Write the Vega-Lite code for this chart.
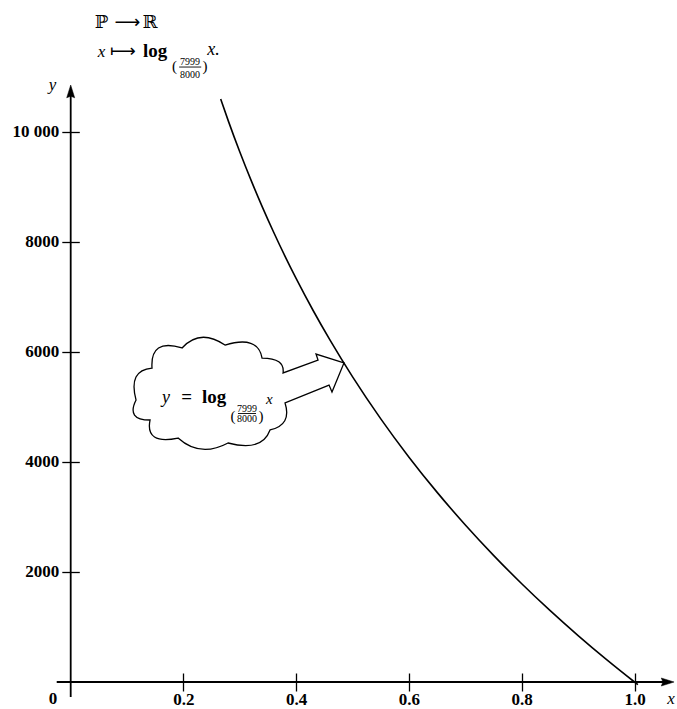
{
  "$schema": "https://vega.github.io/schema/vega-lite/v6.json",
  "width": 677,
  "height": 709,
  "autosize": {"type": "none"},
  "padding": 0,
  "background": "white",
  "config": {"view": {"stroke": null}, "font": "Liberation Serif"},
  "layer": [
    {
      "data": {"values": [
        {"x": -0.0248, "x2": 1.056, "y": 0, "y2": 0},
        {"x": 0, "x2": 0, "y": -272, "y2": 10703}
      ]},
      "mark": {"type": "rule", "stroke": "black", "strokeWidth": 1.8},
      "encoding": {
        "x": {"field": "x", "type": "quantitative",
          "scale": {"domain": [-0.1254, 1.07538], "nice": false, "zero": false},
          "axis": {"values": [0.2, 0.4, 0.6, 0.8, 1.0], "format": ".1f", "domain": false, "grid": false,
            "orient": "bottom", "offset": -36, "tickSize": 18, "tickColor": "black", "tickWidth": 1.3,
            "labelFont": "Liberation Serif", "labelFontSize": 17, "labelFontWeight": "bold", "labelColor": "black",
            "labelBaseline": "alphabetic", "labelPadding": 13.3, "labelOverlap": false, "labelFlush": false, "labelBound": false, "title": null}},
        "x2": {"field": "x2"},
        "y": {"field": "y", "type": "quantitative",
          "scale": {"domain": [-490.64, 12393.2], "nice": false, "zero": false},
          "axis": {"values": [2000, 4000, 6000, 8000, 10000], "format": "d",
            "labelExpr": "datum.value == 10000 ? '10 000' : datum.label",
            "domain": false, "grid": false, "orient": "left", "offset": -79.3, "tickSize": 17.5,
            "tickColor": "black", "tickWidth": 1.3, "labelFont": "Liberation Serif", "labelFontSize": 17, "labelFontWeight": "bold",
            "labelColor": "black", "labelBaseline": "middle", "labelPadding": 3, "labelOverlap": false, "labelFlush": false, "labelBound": false, "title": null}},
        "y2": {"field": "y2"}
      }
    },
    {
      "data": {"values": [{"x": 0, "y": 10703}]},
      "mark": {"type": "point", "shape": "M0,-1L0.5,0.6L0,0.4L-0.5,0.6Z", "filled": true, "fill": "black", "stroke": "black", "strokeWidth": 0.5, "size": 256, "opacity": 1},
      "encoding": {"x": {"field": "x", "type": "quantitative"}, "y": {"field": "y", "type": "quantitative"}}
    },
    {
      "data": {"values": [{"x": 1.056, "y": 0}]},
      "mark": {"type": "point", "shape": "M0,-1L0.5,0.6L0,0.4L-0.5,0.6Z", "angle": 90, "filled": true, "fill": "black", "stroke": "black", "strokeWidth": 0.5, "size": 256, "opacity": 1},
      "encoding": {"x": {"field": "x", "type": "quantitative"}, "y": {"field": "y", "type": "quantitative"}}
    },
    {
      "data": {"values": [{"x": 0.3003, "y": 5215}]},
      "mark": {"type": "point", "shape": "M-0.990,0.048Q-1.067,-0.238,-0.838,-0.257Q-0.857,-0.543,-0.552,-0.448Q-0.381,-0.638,-0.143,-0.476Q0.171,-0.571,0.210,-0.352Q0.429,-0.352,0.410,-0.210L0.743,-0.333L0.724,-0.390L0.990,-0.305L0.876,-0.029L0.848,-0.095L0.429,0.076Q0.495,0.286,0.286,0.333Q0.210,0.543,-0.114,0.457Q-0.381,0.600,-0.590,0.410Q-0.905,0.476,-0.857,0.238Q-1.086,0.238,-0.990,0.048Z",
        "filled": true, "fill": "white", "stroke": "black", "strokeWidth": 1.3, "size": 44100, "opacity": 1, "fillOpacity": 1, "strokeOpacity": 1},
      "encoding": {"x": {"field": "x", "type": "quantitative"}, "y": {"field": "y", "type": "quantitative"}}
    },
    {
      "data": {"values": [
        {"x": 0.266, "y": 10594}, {"x": 0.28, "y": 10183}, {"x": 0.30, "y": 9631}, {"x": 0.32, "y": 9115},
        {"x": 0.34, "y": 8630}, {"x": 0.36, "y": 8173}, {"x": 0.38, "y": 7740}, {"x": 0.40, "y": 7330},
        {"x": 0.43, "y": 6751}, {"x": 0.46, "y": 6212}, {"x": 0.50, "y": 5545}, {"x": 0.55, "y": 4782},
        {"x": 0.60, "y": 4086}, {"x": 0.65, "y": 3446}, {"x": 0.70, "y": 2853}, {"x": 0.75, "y": 2301},
        {"x": 0.80, "y": 1785}, {"x": 0.85, "y": 1300}, {"x": 0.90, "y": 843}, {"x": 0.95, "y": 410},
        {"x": 1.00, "y": 0}, {"x": 1.006, "y": -48}
      ]},
      "mark": {"type": "line", "stroke": "black", "strokeWidth": 1.6, "interpolate": "monotone"},
      "encoding": {"x": {"field": "x", "type": "quantitative"}, "y": {"field": "y", "type": "quantitative"}}
    },
    {
      "data": {"values": [
        {"x": 0.1924, "x2": 0.2315, "y": 11175, "y2": 11175},
        {"x": 0.2967, "x2": 0.3287, "y": 4879, "y2": 4879}
      ]},
      "mark": {"type": "rule", "stroke": "black", "strokeWidth": 0.9},
      "encoding": {"x": {"field": "x", "type": "quantitative"}, "x2": {"field": "x2"}, "y": {"field": "y", "type": "quantitative"}, "y2": {"field": "y2"}}
    },
    {
      "data": {"values": [{"x": -0.0314, "y": -405, "t": "0"}]},
      "mark": {"type": "text", "font": "Liberation Serif", "fontSize": 17, "fontWeight": "bold", "align": "center", "baseline": "alphabetic", "color": "black"},
      "encoding": {"x": {"field": "x", "type": "quantitative"}, "y": {"field": "y", "type": "quantitative"}, "text": {"field": "t"}}
    },
    {
      "data": {"values": [
        {"x": 1.0647, "y": -405, "t": "x"},
        {"x": -0.0323, "y": 10758, "t": "y"},
        {"x": 0.0546, "y": 11363, "t": "x"}
      ]},
      "mark": {"type": "text", "font": "Liberation Serif", "fontSize": 17, "fontStyle": "italic", "align": "center", "baseline": "alphabetic", "color": "black"},
      "encoding": {"x": {"field": "x", "type": "quantitative"}, "y": {"field": "y", "type": "quantitative"}, "text": {"field": "t"}}
    },
    {
      "data": {"values": [
        {"x": 0.0546, "y": 11884, "t": "ℙ"},
        {"x": 0.1407, "y": 11884, "t": "ℝ"}
      ]},
      "mark": {"type": "text", "font": "DejaVu Serif", "fontSize": 18, "align": "center", "baseline": "alphabetic", "color": "black"},
      "encoding": {"x": {"field": "x", "type": "quantitative"}, "y": {"field": "y", "type": "quantitative"}, "text": {"field": "t"}}
    },
    {
      "data": {"values": [
        {"x": 0.1007, "y": 11884, "t": "⟶"},
        {"x": 0.0928, "y": 11363, "t": "⟼"}
      ]},
      "mark": {"type": "text", "font": "DejaVu Sans", "fontSize": 18, "align": "center", "baseline": "alphabetic", "color": "black"},
      "encoding": {"x": {"field": "x", "type": "quantitative"}, "y": {"field": "y", "type": "quantitative"}, "text": {"field": "t"}}
    },
    {
      "data": {"values": [{"x": 0.1282, "y": 11363, "t": "log"}]},
      "mark": {"type": "text", "font": "Liberation Serif", "fontSize": 19, "fontWeight": "bold", "align": "left", "baseline": "alphabetic", "color": "black"},
      "encoding": {"x": {"field": "x", "type": "quantitative"}, "y": {"field": "y", "type": "quantitative"}, "text": {"field": "t"}}
    },
    {
      "data": {"values": [
        {"x": 0.2421, "y": 11394, "t": "x."},
        {"x": 0.1619, "y": 5070, "t": "y"}
      ]},
      "mark": {"type": "text", "font": "Liberation Serif", "fontSize": 18, "fontStyle": "italic", "align": "left", "baseline": "alphabetic", "color": "black"},
      "encoding": {"x": {"field": "x", "type": "quantitative"}, "y": {"field": "y", "type": "quantitative"}, "text": {"field": "t"}}
    },
    {
      "data": {"values": [{"x": 0.3464, "y": 5052, "t": "x"}]},
      "mark": {"type": "text", "font": "Liberation Serif", "fontSize": 15, "fontStyle": "italic", "align": "left", "baseline": "alphabetic", "color": "black"},
      "encoding": {"x": {"field": "x", "type": "quantitative"}, "y": {"field": "y", "type": "quantitative"}, "text": {"field": "t"}}
    },
    {
      "data": {"values": [
        {"x": 0.1960, "y": 5070, "t": "="}
      ]},
      "mark": {"type": "text", "font": "Liberation Serif", "fontSize": 19, "fontWeight": "bold", "align": "left", "baseline": "alphabetic", "color": "black"},
      "encoding": {"x": {"field": "x", "type": "quantitative"}, "y": {"field": "y", "type": "quantitative"}, "text": {"field": "t"}}
    },
    {
      "data": {"values": [
        {"x": 0.2330, "y": 5070, "t": "log"}
      ]},
      "mark": {"type": "text", "font": "Liberation Serif", "fontSize": 19, "fontWeight": "bold", "align": "left", "baseline": "alphabetic", "color": "black"},
      "encoding": {"x": {"field": "x", "type": "quantitative"}, "y": {"field": "y", "type": "quantitative"}, "text": {"field": "t"}}
    },
    {
      "data": {"values": [
        {"x": 0.1841, "y": 11112, "t": "("},
        {"x": 0.2382, "y": 11112, "t": ")"},
        {"x": 0.2879, "y": 4743, "t": "("},
        {"x": 0.3376, "y": 4743, "t": ")"}
      ]},
      "mark": {"type": "text", "font": "Liberation Serif", "fontSize": 15, "align": "center", "baseline": "alphabetic", "color": "black"},
      "encoding": {"x": {"field": "x", "type": "quantitative"}, "y": {"field": "y", "type": "quantitative"}, "text": {"field": "t"}}
    },
    {
      "data": {"values": [
        {"x": 0.2116, "y": 11212, "t": "7999"},
        {"x": 0.2116, "y": 10976, "t": "8000"},
        {"x": 0.3127, "y": 4906, "t": "7999"},
        {"x": 0.3127, "y": 4725, "t": "8000"}
      ]},
      "mark": {"type": "text", "font": "Liberation Serif", "fontSize": 10, "align": "center", "baseline": "alphabetic", "color": "black"},
      "encoding": {"x": {"field": "x", "type": "quantitative"}, "y": {"field": "y", "type": "quantitative"}, "text": {"field": "t"}}
    }
  ]
}
